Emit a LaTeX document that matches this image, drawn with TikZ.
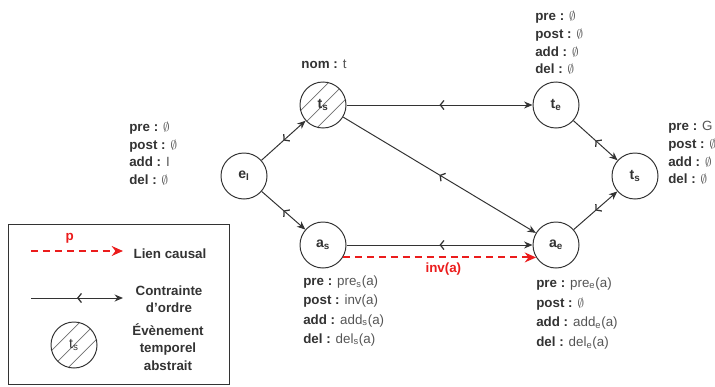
\documentclass[tikz,border=0pt]{standalone}
\usepackage{fontspec}
\setmainfont{Liberation Sans}
\usetikzlibrary{arrows.meta,decorations.markings}
\definecolor{edgegray}{RGB}{51,51,51}
\definecolor{valgray}{RGB}{85,85,85}
\definecolor{hatchgray}{RGB}{110,110,110}
\definecolor{causalred}{RGB}{235,28,28}
\newcommand{\attr}[2]{\textbf{#1 :} {\color{valgray}#2}}
\newcommand{\sub}[1]{\textsubscript{#1}}
\tikzset{
  evt/.style={draw=edgegray,line width=0.7pt,circle,minimum size=1.15cm,inner sep=0pt,font=\fontsize{10}{12}\selectfont\bfseries,text=edgegray},
  abst/.style={path picture={\foreach \k in {-1,0,1}{\draw[hatchgray,line width=0.5pt] ([xshift=\k*12pt-20pt,yshift=-20pt]path picture bounding box.center) -- ++(40pt,40pt);}}},
  order/.style={draw=edgegray,line width=0.7pt,-{Stealth[length=6pt,width=5pt]},
    decoration={markings,mark=at position 0.5 with {\arrowreversed[line width=0.9pt]{Straight Barb[length=2.6pt,width=6.5pt]}}},postaction={decorate}},
  causal/.style={draw=causalred,line width=1.4pt,dash pattern=on 5pt off 3.5pt,-{Stealth[length=8pt,width=7pt]}},
  info/.style={anchor=west,align=left,inner sep=0pt,font=\fontsize{9.5}{12.6}\selectfont,text=edgegray},
  legtxt/.style={align=center,inner sep=0pt,font=\fontsize{9.5}{12.2}\selectfont\bfseries,text=edgegray}
}
\begin{document}
\begin{tikzpicture}[x=0.025cm,y=-0.025cm]
  \useasboundingbox (0,0) rectangle (715,387);
  % events
  \node[evt] (eI) at (244,176) {e\sub{I}};
  \node[evt,abst] (tsA) at (323,105) {t\sub{s}};
  \node[evt] (te) at (556,105) {t\sub{e}};
  \node[evt] (tsB) at (635,176) {t\sub{s}};
  \node[evt] (as) at (323,245) {a\sub{s}};
  \node[evt] (ae) at (556,245) {a\sub{e}};
  % order constraints
  \draw[order] (eI) -- (tsA);
  \draw[order] (eI) -- (as);
  \draw[order] (tsA) -- (te);
  \draw[order] (tsA) -- (ae);
  \draw[order] (te) -- (tsB);
  \draw[order] (ae) -- (tsB);
  \draw[order] (as) -- (ae);
  % causal link
  \draw[causal] (as.-32) -- (ae.212) node[pos=0.52,below=3pt,inner sep=0pt,text=causalred,font=\fontsize{9.5}{12}\selectfont\bfseries] (invLbl) {inv(a)};
  % attributes
  \node[info,anchor=center] (nomLbl) at (324,64) {\attr{nom}{t}};
  \node[info] (eIInfo) at (129,153.5) {\attr{pre}{$\emptyset$}\\\attr{post}{$\emptyset$}\\\attr{add}{I}\\\attr{del}{$\emptyset$}};
  \node[info] (teInfo) at (535,43) {\attr{pre}{$\emptyset$}\\\attr{post}{$\emptyset$}\\\attr{add}{$\emptyset$}\\\attr{del}{$\emptyset$}};
  \node[info] (tsBInfo) at (668,153) {\attr{pre}{G}\\\attr{post}{$\emptyset$}\\\attr{add}{$\emptyset$}\\\attr{del}{$\emptyset$}};
  \node[info] (asInfo) at (303,311) {\attr{pre}{pre\sub{s}(a)}\\[1pt]\attr{post}{inv(a)}\\[1pt]\attr{add}{add\sub{s}(a)}\\[1pt]\attr{del}{del\sub{s}(a)}};
  \node[info] (aeInfo) at (536,313.5) {\attr{pre}{pre\sub{e}(a)}\\[1.5pt]\attr{post}{$\emptyset$}\\[1.5pt]\attr{add}{add\sub{e}(a)}\\[1.5pt]\attr{del}{del\sub{e}(a)}};
  % legend
  \draw[edgegray,line width=0.7pt] (8,224) rectangle (229,384);
  \coordinate (causA) at (31,251);
  \coordinate (causB) at (123,251);
  \draw[causal] (causA) -- (causB) node[pos=0.42,above=5pt,inner sep=0pt,text=causalred,font=\fontsize{9.5}{12}\selectfont\bfseries] (pLbl) {p};
  \node[legtxt] (lienLbl) at (170,254) {Lien causal};
  \coordinate (ordA) at (31,298);
  \coordinate (ordB) at (123,298);
  \draw[order] (ordA) -- (ordB);
  \node[legtxt] (ordreLbl) at (169,299.5) {Contrainte\\d'ordre};
  \node[evt,abst,font=\fontsize{10}{12}\selectfont] (tsLeg) at (74,345) {t\sub{s}};
  \node[legtxt] (abstLbl) at (168,347) {Évènement\\temporel\\abstrait};
\end{tikzpicture}
\end{document}
